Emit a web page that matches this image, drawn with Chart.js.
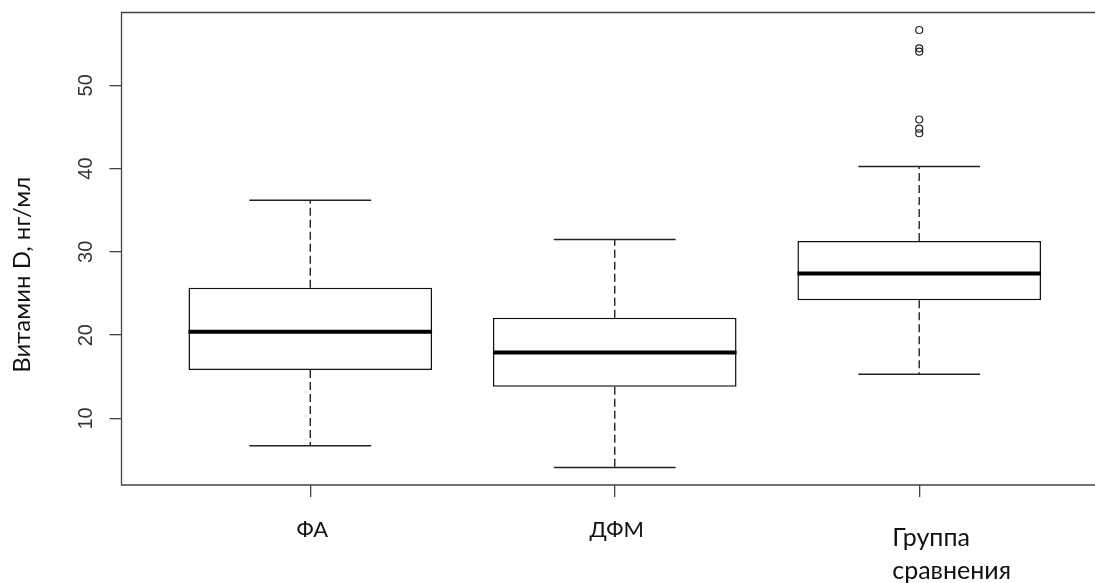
<!DOCTYPE html>
<html>
<head>
<meta charset="utf-8">
<script src="https://cdn.jsdelivr.net/npm/chart.js@4.4.1/dist/chart.umd.min.js"></script>
<style>
  html, body { margin: 0; padding: 0; background: #fff; overflow: hidden; }
  #clip { width: 1095px; height: 583px; overflow: hidden; position: relative; }
  #vitd { display: block; }
</style>
</head>
<body>
<div id="clip"><canvas id="vitd" width="1108" height="583"></canvas></div>
<script>
// Витамин D по группам (boxplot из R)
const groups = ['ФА', 'ДФМ', 'Группа сравнения'];
const whiskerLow = [6.7, 4.1, 15.3];
const q1 = [15.8, 13.8, 24.2];
const medians = [20.4, 17.9, 27.4];
const q3 = [25.7, 22.1, 31.3];
const whiskerHigh = [36.2, 31.5, 40.25];
const outliers = [[], [], [56.65, 54.45, 54.05, 45.9, 44.8, 44.25]];
const yTicks = [10, 20, 30, 40, 50];
const yTitle = 'Витамин D, нг/мл';

const BOX_WEX = 0.8;      // ширина ящика
const STAPLE_WEX = 0.4;   // ширина усов

// R extends the range by 4% on each side
const allValues = whiskerLow.concat(whiskerHigh, outliers.flat());
const dataMin = Math.min(...allValues);
const dataMax = Math.max(...allValues);
const pad = (dataMax - dataMin) * 0.04;
const xPad = groups.length * 0.04;

const segs = (fn) => {
  const pts = [];
  groups.forEach((g, i) => {
    fn(i + 1, i).forEach(p => pts.push(p));
  });
  return pts;
};

const whiskerPts = segs((x, i) => [
  { x: x, y: q3[i] }, { x: x, y: whiskerHigh[i] }, { x: x, y: null },
  { x: x, y: q1[i] }, { x: x, y: whiskerLow[i] }, { x: x, y: null }
]);
const staplePts = segs((x, i) => [
  { x: x - STAPLE_WEX / 2, y: whiskerHigh[i] }, { x: x + STAPLE_WEX / 2, y: whiskerHigh[i] }, { x: x, y: null },
  { x: x - STAPLE_WEX / 2, y: whiskerLow[i] }, { x: x + STAPLE_WEX / 2, y: whiskerLow[i] }, { x: x, y: null }
]);
const medianPts = segs((x, i) => [
  { x: x - BOX_WEX / 2, y: medians[i] }, { x: x + BOX_WEX / 2, y: medians[i] }, { x: x, y: null }
]);
const outlierPts = segs((x, i) => outliers[i].map(v => ({ x: x, y: v })));

const decor = {
  id: 'decor',
  beforeDatasetsDraw(chart) {
    // frame: left, top, bottom (right side lies outside the cropped figure)
    const { ctx, chartArea: a } = chart;
    ctx.save();
    ctx.strokeStyle = '#444';
    ctx.lineWidth = 1.3;
    ctx.beginPath();
    ctx.moveTo(chart.width, a.top);
    ctx.lineTo(a.left, a.top);
    ctx.lineTo(a.left, a.bottom);
    ctx.lineTo(chart.width, a.bottom);
    ctx.stroke();
    ctx.restore();
  },
  afterDraw(chart) {
    const { ctx, chartArea: a } = chart;
    const xs = chart.scales.x;
    ctx.save();
    ctx.fillStyle = '#111';
    // y title
    ctx.translate(22, (a.top + a.bottom) / 2 + 26);
    ctx.rotate(-Math.PI / 2);
    ctx.textAlign = 'center';
    ctx.textBaseline = 'middle';
    ctx.font = '24px Lato';
    ctx.fillText(yTitle, 0, 0);
    ctx.restore();

    // x labels
    ctx.save();
    ctx.fillStyle = '#111';
    groups.forEach((g, i) => {
      const px = xs.getPixelForValue(i + 1);
      const lines = g.split(' ');
      if (lines.length === 1) {
        ctx.font = '22px Lato';
        ctx.textAlign = 'center';
        ctx.fillText(g, px + 2, a.bottom + 52);
      } else {
        ctx.font = '25px Lato';
        ctx.textAlign = 'left';
        lines.forEach((ln, k) => ctx.fillText(ln, px - 27, a.bottom + 61 + k * 33));
      }
    });
    ctx.restore();
  }
};

new Chart(document.getElementById('vitd'), {
  type: 'bar',
  data: {
    datasets: [
      {
        type: 'bar',
        data: groups.map((g, i) => ({ x: i + 1, y: [q1[i], q3[i]] })),
        backgroundColor: '#ffffff',
        borderColor: '#111',
        borderWidth: 1.5,
        borderSkipped: false,
        barPercentage: BOX_WEX,
        categoryPercentage: 1,
        order: 2
      },
      {
        type: 'line',
        data: whiskerPts,
        borderColor: '#222',
        borderWidth: 1.4,
        borderDash: [8, 4],
        pointRadius: 0,
        spanGaps: false,
        order: 3
      },
      {
        type: 'line',
        data: staplePts,
        borderColor: '#222',
        borderWidth: 1.5,
        pointRadius: 0,
        spanGaps: false,
        order: 3
      },
      {
        type: 'line',
        data: medianPts,
        borderColor: '#000',
        borderWidth: 4,
        pointRadius: 0,
        spanGaps: false,
        order: 1
      },
      {
        type: 'scatter',
        data: outlierPts,
        pointRadius: 3.5,
        pointBackgroundColor: 'rgba(0,0,0,0)',
        pointBorderColor: '#222',
        pointBorderWidth: 1.2,
        order: 1
      }
    ]
  },
  options: {
    responsive: false,
    animation: false,
    events: [],
    layout: { autoPadding: false, padding: { top: 12.5, right: 0, left: 0, bottom: 0 } },
    plugins: { legend: { display: false }, tooltip: { enabled: false } },
    scales: {
      x: {
        type: 'linear',
        min: 0.5 - xPad,
        max: groups.length + 0.5 + xPad,
        offset: false,
        afterFit: s => { s.height = 98; s.paddingLeft = 0; s.paddingRight = 0; },
        border: { display: false },
        grid: { offset: false, drawOnChartArea: false, drawTicks: true, tickLength: 12, color: '#444', lineWidth: 1.3 },
        ticks: { stepSize: 1, includeBounds: false, display: false }
      },
      y: {
        type: 'linear',
        min: dataMin - pad,
        max: dataMax + pad,
        afterFit: s => { s.width = 121.5; s.paddingTop = 0; s.paddingBottom = 0; },
        afterBuildTicks: s => { s.ticks = yTicks.map(v => ({ value: v })); },
        border: { display: false },
        grid: { drawOnChartArea: false, drawTicks: true, tickLength: 12, color: '#444', lineWidth: 1.3 },
        ticks: {
          autoSkip: false,
          minRotation: 90,
          maxRotation: 90,
          crossAlign: 'center',
          padding: 12,
          color: '#333',
          font: { family: 'Liberation Sans', size: 20 }
        }
      }
    }
  },
  plugins: [decor]
});
</script>
</body>
</html>
